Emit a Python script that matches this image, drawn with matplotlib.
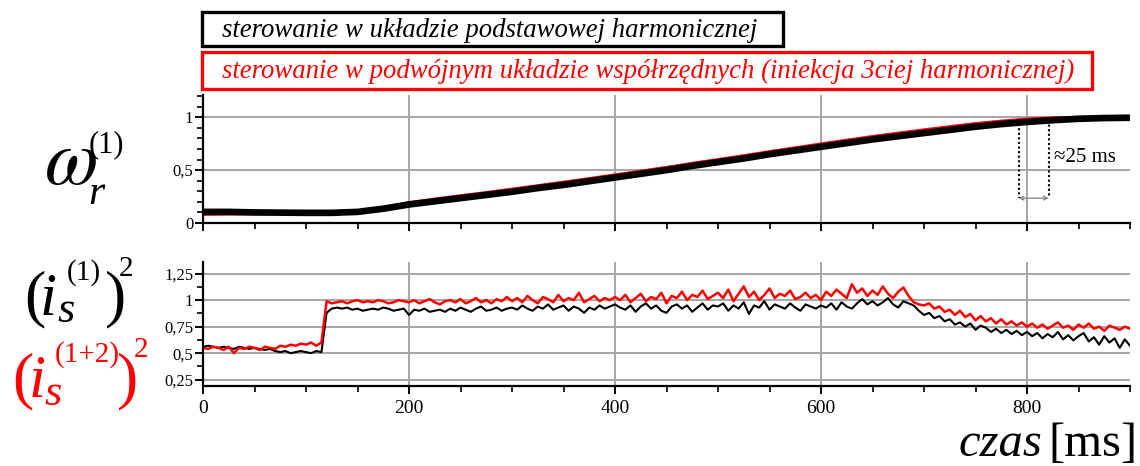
import matplotlib
matplotlib.use("Agg")
from matplotlib import pyplot as plt
from matplotlib.patches import Rectangle
from matplotlib.ticker import FixedLocator, MultipleLocator
import numpy as np

plt.rcParams['font.family'] = ['Liberation Serif', 'DejaVu Serif']
plt.rcParams['mathtext.fontset'] = 'stix'

W, H = 1140, 466

legend_black = "sterowanie w układzie podstawowej harmonicznej"
legend_red = "sterowanie w podwójnym układzie współrzędnych (iniekcja 3ciej harmonicznej)"

# rotor speed, sampled every 25 ms
t_w = np.arange(0, 901, 25)
w_black = [0.105, 0.105, 0.100, 0.098, 0.096, 0.096, 0.105, 0.135, 0.175, 0.205,
           0.235, 0.265, 0.295, 0.330, 0.360, 0.395, 0.430, 0.465, 0.500, 0.540,
           0.575, 0.610, 0.650, 0.685, 0.720, 0.755, 0.790, 0.820, 0.850, 0.880,
           0.910, 0.935, 0.955, 0.972, 0.985, 0.992, 0.995]
w_red = [0.085, 0.088, 0.090, 0.092, 0.093, 0.095, 0.107, 0.142, 0.190, 0.223,
         0.255, 0.285, 0.317, 0.350, 0.383, 0.417, 0.452, 0.487, 0.523, 0.561,
         0.597, 0.633, 0.672, 0.708, 0.745, 0.780, 0.815, 0.847, 0.878, 0.908,
         0.937, 0.960, 0.980, 0.991, 0.996, 0.998, 0.999]

# squared stator current, sampled every 5 ms
t_i = np.arange(0, 901, 5)
i_black = [0.56, 0.57, 0.56, 0.55, 0.56, 0.55, 0.54, 0.56, 0.55, 0.54, 0.55, 0.54,
           0.53, 0.54, 0.52, 0.51, 0.52, 0.50, 0.51, 0.52, 0.51, 0.50, 0.52, 0.51,
           0.88, 0.92, 0.93, 0.92, 0.93, 0.91, 0.92, 0.90, 0.91, 0.92, 0.91, 0.93,
           0.92, 0.90, 0.91, 0.92,
           0.86, 0.91, 0.90, 0.92, 0.89, 0.90, 0.91, 0.89, 0.92, 0.90, 0.93, 0.91,
           0.89, 0.92, 0.94, 0.90, 0.91, 0.93, 0.90, 0.92,
           0.93, 0.91, 0.95, 0.92, 0.90, 0.94, 0.92, 0.96, 0.91, 0.93, 0.95, 0.90,
           0.94, 0.92, 0.88, 0.93, 0.91, 0.95, 0.92, 0.94,
           0.96, 0.93, 0.91, 0.95, 0.89, 0.94, 0.97, 0.92, 0.95, 0.90, 0.88, 0.94,
           0.96, 0.92, 0.95, 0.89, 0.93, 0.97, 0.91, 0.95,
           0.94, 0.97, 0.90, 0.95, 0.92, 0.98, 0.87, 0.95, 0.93, 0.99, 0.91, 0.96,
           0.94, 0.92, 0.97, 0.93, 0.90, 0.96, 0.94, 0.92,
           0.95, 0.93, 0.97, 0.91, 0.98, 0.94, 0.92, 0.97, 1.01, 0.96, 0.99, 0.95,
           0.98, 1.02, 0.96, 0.93, 0.99, 0.97, 0.95, 0.90,
           0.86, 0.88, 0.83, 0.85, 0.80, 0.82, 0.77, 0.79, 0.75, 0.78, 0.72, 0.76,
           0.74, 0.70, 0.73, 0.69, 0.72, 0.68, 0.71, 0.67,
           0.70, 0.66, 0.69, 0.64, 0.68, 0.65, 0.70, 0.63, 0.67, 0.62, 0.66, 0.69,
           0.61, 0.65, 0.58, 0.66, 0.60, 0.64, 0.55, 0.63, 0.57]
i_red = [0.55, 0.54, 0.56, 0.55, 0.53, 0.56, 0.50, 0.55, 0.54, 0.56, 0.55, 0.53,
         0.56, 0.55, 0.54, 0.57, 0.56, 0.58, 0.57, 0.59, 0.58, 0.60, 0.57, 0.60,
         0.99, 0.97, 0.98, 0.99, 0.97, 0.99, 1.00, 0.98, 0.99, 0.98, 1.00, 0.99,
         0.97, 0.98, 1.00, 0.99,
         0.98, 1.00, 0.97, 0.99, 1.01, 0.98, 0.96, 0.99, 1.00, 0.98, 1.01, 0.97,
         0.99, 1.02, 0.98, 1.00, 0.97, 1.01, 0.99, 1.03,
         0.99, 1.02, 0.98, 1.04, 1.00, 0.97, 1.03, 1.01, 0.98, 1.05, 0.99, 1.02,
         1.00, 1.07, 0.98, 1.01, 1.04, 0.99, 1.02, 1.00,
         1.03, 1.00, 1.05, 0.98, 1.02, 1.06, 0.99, 1.03, 1.01, 1.07, 0.97, 1.04,
         1.02, 1.08, 1.00, 1.05, 1.03, 1.09, 1.01, 1.04,
         1.07, 1.02, 1.10, 0.99, 1.06, 1.13, 1.03, 1.08, 1.00, 1.05, 1.11, 1.02,
         1.06, 1.04, 1.09, 1.01, 1.03, 1.07, 1.02, 1.05,
         1.00, 1.08, 1.04, 1.10, 1.06, 1.02, 1.15, 1.07, 1.11, 1.04, 1.09, 1.05,
         1.13, 1.06, 1.02, 1.08, 1.12, 1.04, 0.98, 0.96,
         0.95, 0.97, 0.92, 0.94, 0.89, 0.91, 0.86, 0.90, 0.84, 0.87, 0.81, 0.85,
         0.80, 0.83, 0.78, 0.82, 0.77, 0.80, 0.76, 0.79,
         0.75, 0.78, 0.74, 0.77, 0.73, 0.76, 0.79, 0.74, 0.76, 0.72, 0.77, 0.74,
         0.78, 0.73, 0.75, 0.71, 0.76, 0.74, 0.72, 0.75, 0.73]

w_ticks = [0, 0.5, 1]
w_labels = ['0', '0,5', '1']
i_ticks = [0.25, 0.5, 0.75, 1, 1.25]
i_labels = ['0,25', '0,5', '0,75', '1', '1,25']
t_ticks = [0, 200, 400, 600, 800]

# the ~25 ms marker
mark_t = [792, 821]
mark_top = [0.985, 0.975]
mark_bottom = 0.235
mark_text = "≈25 ms"

red = '#ff0000'

fig = plt.figure(figsize=(W / 100, H / 100), dpi=100)


def fx(x):
    return x / W


def fy(y):
    return 1 - y / H


def ftext(x, y, s, size, color='black', style='normal', **kw):
    fig.text(fx(x), fy(y), s, fontsize=size, color=color, fontstyle=style,
             ha=kw.pop('ha', 'left'), va=kw.pop('va', 'baseline'), **kw)


ax1 = fig.add_axes([fx(203), fy(223), fx(927), 128 / H])
ax2 = fig.add_axes([fx(203), fy(386), fx(927), 124 / H])

ax1.plot(t_w, w_red, color=red, lw=2.6, zorder=3, solid_capstyle='butt')
ax1.plot(t_w, w_black, color='black', lw=4.8, zorder=4, solid_capstyle='butt')
ax2.plot(t_i, i_black, color='black', lw=1.5, zorder=3)
ax2.plot(t_i, i_red, color=red, lw=1.8, zorder=4)

for ax, yt, yl, ylim, ymin in [(ax1, w_ticks, w_labels, (0, 1.21), 0.1),
                              (ax2, i_ticks, i_labels, (0.19, 1.36), 0.125)]:
    ax.set_xlim(0, 900)
    ax.set_ylim(*ylim)
    ax.yaxis.set_major_locator(FixedLocator(yt))
    ax.set_yticklabels(yl)
    ax.yaxis.set_minor_locator(MultipleLocator(ymin))
    ax.xaxis.set_major_locator(FixedLocator(t_ticks))
    ax.xaxis.set_minor_locator(MultipleLocator(50))
    ax.grid(True, which='major', color='#a6a6a6', lw=1.4, zorder=1)
    for s in ['top', 'right']:
        ax.spines[s].set_visible(False)
    for s in ['left', 'bottom']:
        ax.spines[s].set_linewidth(1.6)
        ax.spines[s].set_zorder(5)
    ax.tick_params(axis='both', which='major', direction='out', length=6, width=1.4, colors='black')
    ax.tick_params(axis='both', which='minor', direction='out', length=4, width=1.2, colors='black')
    ax.tick_params(axis='y', labelsize=12, pad=1)
    ax.tick_params(axis='x', labelsize=14, pad=4)
    ax.set_facecolor('none')

ax1.tick_params(axis='x', labelbottom=False)
ax1.set_xticklabels([])

# ~25 ms marker
for t, top in zip(mark_t, mark_top):
    ax1.plot([t, t], [top, mark_bottom], color='black', lw=1.5, ls=(0, (1, 1.2)), zorder=6)
ax1.annotate('', xy=(mark_t[0], mark_bottom), xytext=(mark_t[1], mark_bottom),
             arrowprops=dict(arrowstyle='<->', color='#808080', lw=0.9, shrinkA=0, shrinkB=0,
                             mutation_scale=7), zorder=6)
ax1.text(826, 0.62, mark_text, fontsize=15, va='center', ha='left')

# legend boxes
fig.add_artist(Rectangle((fx(202), fy(46)), fx(783 - 202), 34 / H, transform=fig.transFigure,
                         fill=False, ec='black', lw=2.4))
fig.add_artist(Rectangle((fx(202), fy(89)), fx(1092 - 202), 37 / H, transform=fig.transFigure,
                         fill=False, ec=red, lw=2.4))
ftext(222, 37, legend_black, 19.3, style='italic')
ftext(222, 78, legend_red, 19.3, color=red, style='italic')

# left labels
ftext(44, 184, r'$\omega$', 56)
ftext(88, 204, 'r', 30, style='italic')
ftext(89, 152, '(1)', 22)

ftext(24, 314, '(', 46)
ftext(40, 315, 'i', 44, style='italic')
ftext(57, 322, 's', 32, style='italic')
ftext(67, 280, '(1)', 21)
ftext(105, 314, ')', 46)
ftext(119, 276, '2', 21)

ftext(12, 396, '(', 46, color=red)
ftext(29, 397, 'i', 44, color=red, style='italic')
ftext(44, 405, 's', 32, color=red, style='italic')
ftext(55, 362, '(1+2)', 21, color=red)
ftext(117, 396, ')', 46, color=red)
ftext(134, 357, '2', 21, color=red)

# axis title
ftext(1137, 456, '[ms]', 35, ha='right')
ftext(1042, 456, 'czas', 35, style='italic', ha='right')

fig.savefig('out.png', dpi=100)
